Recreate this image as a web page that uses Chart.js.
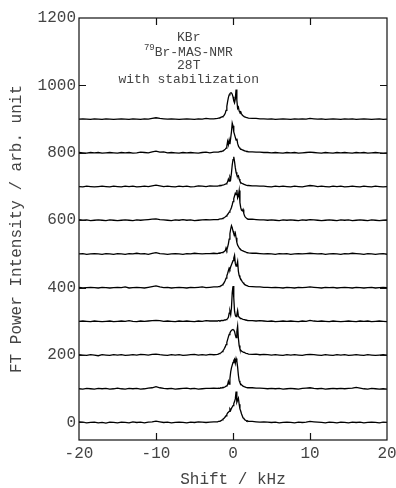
<!DOCTYPE html>
<html>
<head>
<meta charset="utf-8">
<script src="https://cdn.jsdelivr.net/npm/chart.js@4.4.1/dist/chart.umd.min.js"></script>
<style>
html,body{margin:0;padding:0;background:#fff;}
canvas{display:block;}
</style>
</head>
<body>
<canvas id="c" width="396" height="488"></canvas>
<script>
// Shift axis sampling (kHz)
const shift = [
-20,-19.5,-19,-18.5,-18,-17.5,-17,-16.5,-16,-15.5,-15,-14.5,-14,-13.5,-13,-12.5,-12,-11.5,-11,-10.5,-10,-9.5,-9,-8.5,-8,-7.5,-7,-6.5,-6,-5.5,-5,-4.5,-4,-3.5,-3,-2.5,
-2,-1.9,-1.8,-1.7,-1.6,-1.5,-1.4,-1.3,-1.2,-1.1,-1,-0.9,-0.8,-0.7,-0.6,-0.5,-0.4,-0.3,-0.2,-0.1,0,0.1,0.2,0.3,0.4,0.5,0.6,0.7,0.8,0.9,1,1.1,1.2,1.3,1.4,1.5,1.6,1.7,1.8,1.9,2,
2.5,3,3.5,4,4.5,5,5.5,6,6.5,7,7.5,8,8.5,9,9.5,10,10.5,11,11.5,12,12.5,13,13.5,14,14.5,15,15.5,16,16.5,17,17.5,18,18.5,19,19.5,20
];
// Vertical offsets of the stacked spectra
const offsets = [0,100,200,300,400,500,600,700,800,900];
// Spectra (intensity above own baseline)
const s0 = [2,1,-1,0,1,-1,0,-2,1,0,-1,1,0,-1,2,0,1,-1,1,2,4,2,0,1,-1,0,1,0,-1,1,0,2,1,0,1,2,
2,3,3,4,5,6,8,10,12,14,17,20,24,28,30,33,40,36,42,46,50,56,62,70,92,60,66,72,54,40,34,26,20,14,12,9,7,6,4,5,3,
3,2,1,2,1,0,1,-1,0,1,0,-1,1,0,1,3,2,1,0,-1,1,0,-1,1,0,-1,1,0,1,-1,0,1,0,-1,1,0];
const s1 = [0,-1,1,0,-1,1,0,1,-1,0,2,0,-1,1,0,1,-1,0,2,3,6,3,1,0,1,-1,0,1,2,0,1,-1,0,1,1,2,
1,2,1,2,3,2,3,4,4,5,6,8,9,12,22,14,30,50,62,70,78,84,88,76,90,82,64,40,24,18,14,12,10,8,7,6,5,4,4,3,3,
3,2,2,1,0,1,0,1,-1,0,1,0,-1,1,2,3,1,0,1,-1,0,1,0,1,0,1,2,4,2,0,-1,1,0,-1,0,-1];
const s2 = [1,0,-1,1,0,-2,1,0,-1,1,0,1,-1,0,1,0,2,1,0,2,3,1,0,-1,1,0,1,-1,0,1,2,0,1,0,2,1,
2,3,4,5,6,8,10,13,16,20,25,31,38,46,54,61,66,70,73,75,76,74,70,60,52,70,86,50,28,18,14,12,10,9,8,8,6,5,5,4,3,
2,3,1,2,1,0,1,0,-1,1,0,1,0,-1,1,2,1,0,-1,1,0,-1,1,0,1,-1,0,1,0,-1,1,0,-1,0,1,0];
const s3 = [0,1,0,-1,1,0,-1,0,1,-1,0,1,0,2,0,-1,1,0,1,2,3,2,0,1,0,-1,1,0,1,0,-1,1,0,2,1,1,
1,2,2,1,2,3,2,3,3,4,4,5,6,8,12,24,30,20,40,85,105,70,30,18,14,20,32,16,12,10,9,8,7,6,6,5,4,4,3,3,2,
2,1,2,1,0,1,-1,0,1,0,1,0,-1,1,0,3,1,0,1,0,-1,1,0,-1,0,1,0,-1,1,0,1,-1,0,1,0,-1];
const s4 = [1,-1,0,1,0,-1,1,0,-1,0,1,0,2,-1,0,1,0,-1,1,3,5,2,0,1,-1,0,1,0,-1,1,0,1,2,0,1,2,
2,3,3,4,5,6,8,10,13,17,22,28,35,42,50,58,54,62,68,74,80,88,96,72,64,68,78,48,36,30,26,22,18,15,12,10,8,7,6,5,4,
3,2,2,1,1,0,1,0,-1,1,0,-1,1,0,1,2,1,0,-1,1,0,1,-1,0,1,0,-1,1,0,-1,0,1,-1,0,1,0];
const s5 = [0,1,-1,0,1,0,-1,1,0,-1,1,0,-1,1,0,2,0,1,-1,2,4,1,0,-1,0,1,0,-1,1,0,2,1,0,1,1,2,
1,2,2,3,3,4,4,5,6,8,10,18,12,20,30,44,60,74,84,78,68,60,56,62,48,34,26,22,18,15,13,11,10,9,8,7,6,5,4,4,3,
2,2,1,0,1,0,-1,1,0,1,-1,0,1,0,1,2,1,0,1,-1,0,1,0,-1,1,0,2,1,0,-1,1,0,-1,0,1,-1];
const s6 = [2,0,1,-1,0,1,0,-1,1,0,-1,0,1,0,-1,1,0,1,2,3,4,2,1,0,-1,1,0,2,0,1,-1,0,1,2,1,2,
2,2,3,3,4,4,5,6,7,8,10,12,14,17,20,24,28,32,38,46,55,64,72,80,76,90,66,72,88,52,38,30,28,32,20,13,9,7,5,4,3,
3,2,1,1,0,1,0,-1,1,0,1,0,-1,1,0,2,1,0,-1,0,1,0,-1,1,0,1,-1,0,1,0,-1,1,0,-1,0,1];
const s7 = [0,-1,1,0,-1,0,1,0,-1,1,0,-1,1,0,1,-1,0,1,0,2,4,2,0,1,0,-1,1,0,1,-1,0,2,1,0,2,1,
1,2,2,3,3,3,4,4,5,6,7,8,10,14,22,16,28,22,40,64,80,88,74,56,42,34,30,32,22,16,12,10,9,8,7,6,5,4,4,3,3,
2,2,1,1,0,-1,1,0,1,0,-1,1,0,-1,1,3,2,0,1,0,-1,1,0,1,-1,0,1,0,-1,1,0,-1,1,0,-1,0];
const s8 = [1,0,-1,1,0,1,-1,0,1,0,-1,1,0,1,-1,0,2,1,0,3,5,2,3,0,1,0,-1,1,0,1,0,-1,1,2,0,2,
2,2,3,3,4,4,5,6,7,9,11,14,20,34,24,38,26,44,62,88,80,62,54,46,38,42,28,20,16,13,11,10,9,8,7,6,5,5,4,4,3,
3,2,2,1,1,0,1,0,-1,1,0,1,-1,0,1,2,1,0,-1,1,0,-1,1,0,1,0,-1,1,0,1,-1,0,1,0,-1,0];
const s9 = [0,1,0,-1,1,0,-1,1,0,-1,0,1,0,-1,1,0,-1,1,0,2,4,2,1,0,1,0,-1,0,1,0,-1,1,0,2,1,1,
2,3,3,4,5,6,7,8,10,13,18,26,38,52,64,72,76,78,78,74,66,54,48,60,88,56,32,36,24,20,22,16,12,10,8,7,6,5,5,4,3,
2,2,1,1,0,1,-1,0,1,0,-1,1,0,1,0,2,1,0,1,-1,0,1,0,-1,1,0,1,-1,0,1,0,-1,0,1,-1,0];
const spectra = [s0,s1,s2,s3,s4,s5,s6,s7,s8,s9];
// Tick values
const xTicks = [-20,-10,0,10,20];
const yTicks = [0,200,400,600,800,1000,1200];
// Annotation
const noteLines = ["KBr", "Br-MAS-NMR", "28T", "with stabilization"];
const noteSup = "79";

const FONT = "'Liberation Mono', 'Courier New', monospace";
const TXT = '#444';

const datasets = spectra.map((s, k) => ({
  data: shift.map((x, i) => ({x: x, y: offsets[k] + s[i]})),
  borderColor: '#000', borderWidth: 1.3, pointRadius: 0, tension: 0, fill: false
}));

const framePlugin = {
  id: 'frame',
  afterDatasetsDraw(chart) {
    const {ctx, chartArea: a, scales: {x, y}} = chart;
    ctx.save();
    ctx.strokeStyle = '#111';
    ctx.lineWidth = 1.2;
    ctx.strokeRect(a.left, a.top, a.right - a.left, a.bottom - a.top);
    ctx.beginPath();
    const L = 7;
    xTicks.slice(1, -1).forEach(v => {
      const px = Math.round(x.getPixelForValue(v)) + 0.5;
      ctx.moveTo(px, a.bottom); ctx.lineTo(px, a.bottom - L);
      ctx.moveTo(px, a.top); ctx.lineTo(px, a.top + L);
    });
    yTicks.slice(0, -1).forEach(v => {
      const py = Math.round(y.getPixelForValue(v)) + 0.5;
      ctx.moveTo(a.left, py); ctx.lineTo(a.left + L, py);
      ctx.moveTo(a.right, py); ctx.lineTo(a.right - L, py);
    });
    ctx.stroke();
    // annotation
    ctx.fillStyle = TXT;
    ctx.textAlign = 'center';
    ctx.textBaseline = 'middle';
    const cx = x.getPixelForValue(-5.75);
    const ys = [1143, 1096, 1060, 1016];
    const sizes = [13, 13, 13, 13];
    noteLines.forEach((t, i) => {
      ctx.font = sizes[i] + 'px ' + FONT;
      const py = y.getPixelForValue(ys[i]);
      if (i === 1) {
        const w = ctx.measureText(t).width;
        ctx.fillText(t, cx + 5, py);
        ctx.font = '9px ' + FONT;
        ctx.textAlign = 'right';
        ctx.fillText(noteSup, cx + 5 - w / 2, py - 5);
        ctx.textAlign = 'center';
      } else {
        ctx.fillText(t, cx, py);
      }
    });
    ctx.restore();
  }
};

new Chart(document.getElementById('c'), {
  type: 'line',
  data: {datasets},
  plugins: [framePlugin],
  options: {
    responsive: false,
    animation: false,
    events: [],
    layout: {padding: {top: 18, right: 9, left: 0, bottom: 0}},
    plugins: {legend: {display: false}, tooltip: {enabled: false}},
    scales: {
      x: {
        type: 'linear', min: -20, max: 20,
        afterBuildTicks: s => { s.ticks = xTicks.map(v => ({value: v})); },
        ticks: {font: {family: FONT, size: 16}, color: TXT, padding: 4, maxRotation: 0, callback: v => String(v)},
        grid: {display: false, drawTicks: false},
        border: {display: false},
        title: {display: true, text: 'Shift / kHz', font: {family: FONT, size: 16, lineHeight: 1.0}, color: TXT, padding: {top: 0, bottom: 0}},
        afterFit: s => { s.height = 48; s.paddingRight = 0; s.paddingLeft = 0; }
      },
      y: {
        type: 'linear', min: -52, max: 1200,
        afterBuildTicks: s => { s.ticks = yTicks.map(v => ({value: v})); },
        ticks: {font: {family: FONT, size: 16}, color: TXT, padding: 3, callback: v => String(v)},
        grid: {display: false, drawTicks: false},
        border: {display: false},
        title: {display: true, text: 'FT Power Intensity / arb. unit', font: {family: FONT, size: 16, lineHeight: 1.2}, color: TXT, padding: {top: 7, bottom: 0}},
        afterFit: s => { s.width = 79; s.paddingTop = 0; s.paddingBottom = 0; }
      }
    }
  }
});
</script>
</body>
</html>
